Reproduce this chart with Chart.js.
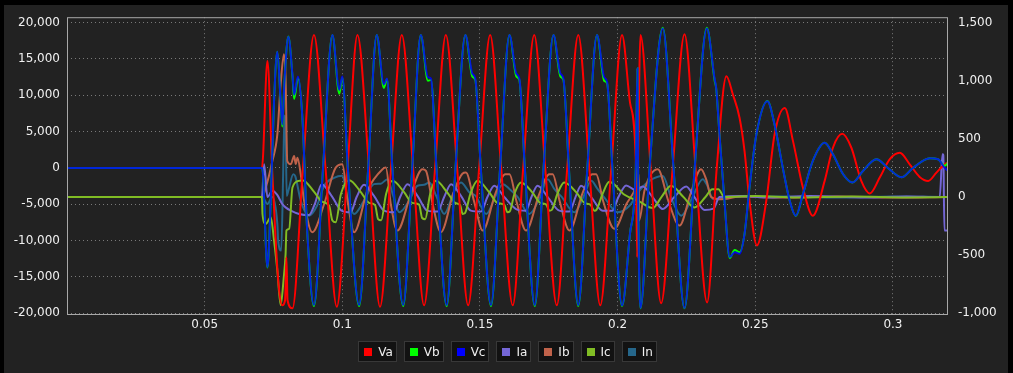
<!DOCTYPE html>
<html lang="en">
<head>
<meta charset="UTF-8">
<title>Va Vb Vc Ia Ib Ic In</title>
<script src="https://cdn.jsdelivr.net/npm/chart.js"></script>
<style>
html, body {
  margin: 0;
  padding: 0;
  background: #000;
}
#box {
  position: relative;
  width: 1013px;
  height: 373px;
}
#chart {
  position: absolute;
  left: 0;
  top: 0;
}
#legend {
  position: absolute;
  left: 0;
  top: 341px;
  width: 1015px;
  display: flex;
  justify-content: center;
  gap: 7px;
  font-family: 'DejaVu Sans', sans-serif;
  font-size: 12px;
  color: #f0f0f0;
}
.item {
  display: flex;
  align-items: center;
  height: 19px;
  border: 1px solid #383838;
  background: #121212;
  padding: 0 3px 0 5px;
}
.item span {
  display: inline-block;
  width: 8px;
  height: 8px;
  margin-right: 6px;
}
</style>
</head>
<body>
<div id="box">
  <canvas id="chart" width="1013" height="373"></canvas>
  <div id="legend"></div>
</div>
<script>
// axis ticks
const timeTicks = [0.05, 0.1, 0.15, 0.2, 0.25, 0.3];
const voltTicks = [-20000, -15000, -10000, -5000, 0, 5000, 10000, 15000, 20000];
const ampTicks = [-1000, -500, 0, 500, 1000, 1500];

// Va (red)
const vaT = [0, 0.0708, 0.0728, 0.0745, 0.0767, 0.0782, 0.0792, 0.0797, 0.0801, 0.0819, 0.0857, 0.0897, 0.0939, 0.0980, 0.1019, 0.1055, 0.1097, 0.1137, 0.1177, 0.1216, 0.1257, 0.1297, 0.1337, 0.1376, 0.1417, 0.1457, 0.1497, 0.1537, 0.1577, 0.1619, 0.1657, 0.1697, 0.1737, 0.1779, 0.1817, 0.1857, 0.1897, 0.1937, 0.1977, 0.2016, 0.2045, 0.2066, 0.2071, 0.2075, 0.2083, 0.2120, 0.2158, 0.2200, 0.2243, 0.2283, 0.2325, 0.2360, 0.2395, 0.2419, 0.2443, 0.2461, 0.2479, 0.2506, 0.2540, 0.2570, 0.2607, 0.2637, 0.2673, 0.2709, 0.2752, 0.2782, 0.2816, 0.2849, 0.2885, 0.2916, 0.2952, 0.2988, 0.3025, 0.3061, 0.3097, 0.3128, 0.3158, 0.3188, 0.3200];
const vaV = [0, 0, 14700, 0, -15400, -18900, -18200, -12300, -18200, -19300, 0, 18300, 0, -19100, 0, 18300, 0, -19100, 0, 18300, 0, -18900, 0, 18300, 0, -18900, 0, 18300, 0, -18900, 0, 18300, 0, -18900, 0, 18300, 0, -18900, 0, 18300, 9000, 1000, -12300, 2000, 18300, 0, -18600, 0, 18400, 0, -18500, 0, 12600, 10070, 6880, 2320, -4510, -10660, -4510, 4600, 8240, 3690, -2690, -6560, -1780, 2780, 4690, 2780, -1780, -3510, -1330, 1190, 2090, 500, -1230, -1780, -640, 500, 700];

// Vb (green) and Vc (blue) share their sample times
const vcT = [0, 0.0709, 0.0728, 0.0740, 0.0752, 0.0764, 0.0776, 0.0782, 0.0790, 0.0804, 0.0819, 0.0825, 0.0839, 0.0855, 0.0873, 0.0897, 0.0930, 0.0964, 0.0989, 0.1000, 0.1020, 0.1061, 0.1094, 0.1125, 0.1151, 0.1162, 0.1182, 0.1221, 0.1254, 0.1285, 0.1311, 0.1322, 0.1342, 0.1379, 0.1411, 0.1447, 0.1472, 0.1483, 0.1503, 0.1540, 0.1573, 0.1607, 0.1632, 0.1643, 0.1663, 0.1699, 0.1731, 0.1767, 0.1792, 0.1803, 0.1823, 0.1857, 0.1890, 0.1925, 0.1951, 0.1962, 0.1981, 0.2016, 0.2045, 0.2066, 0.2072, 0.2075, 0.2083, 0.2116, 0.2164, 0.2203, 0.2243, 0.2280, 0.2324, 0.2352, 0.2358, 0.2370, 0.2388, 0.2407, 0.2425, 0.2443, 0.2461, 0.2479, 0.2504, 0.2544, 0.2570, 0.2600, 0.2625, 0.2647, 0.2673, 0.2709, 0.2752, 0.2782, 0.2819, 0.2853, 0.2891, 0.2940, 0.2982, 0.3031, 0.3073, 0.3134, 0.3164, 0.3188, 0.3200];
const vcV = [0, 0, -13630, -4510, 9160, 16000, 9160, 5970, 12000, 18040, 12810, 10070, 12580, 6880, -9060, -18860, 0, 18280, 10760, 12580, 0, -18860, 0, 18280, 11500, 12300, 0, -18860, 0, 18280, 12500, 12300, 0, -18860, 0, 18280, 13000, 12300, 0, -18860, 0, 18280, 13000, 12300, 0, -18860, 0, 18280, 13000, 12300, 0, -18860, 0, 18280, 12500, 11800, 0, -18900, -9000, 0, 13700, -5000, -19250, 0, 19180, 0, -19250, 0, 19180, 12340, 10980, 4600, -4510, -12260, -11580, -11800, -9060, -2690, 4600, 9160, 5970, 0, -4510, -6560, -3600, 960, 3460, 1870, -860, -2000, -410, 1190, 0, -1280, 0, 1330, 1190, 0, -410];
const vbV = [0, 0, -13700, -4510, 9160, 16000, 9160, 5700, 12000, 18100, 12600, 9500, 12400, 6880, -9060, -19000, 0, 18300, 10200, 12400, 0, -19000, 0, 18300, 11000, 12200, 0, -19000, 0, 18300, 12000, 12100, 0, -19000, 0, 18300, 12600, 12100, 0, -19000, 0, 18300, 12600, 12100, 0, -19000, 0, 18300, 12600, 12100, 0, -19000, 0, 18300, 12000, 11600, 0, -19000, -9000, 0, 13700, -5000, -19300, 0, 19300, 0, -19300, 0, 19300, 12100, 10900, 4600, -4510, -12400, -11300, -11600, -9060, -2690, 4600, 9200, 5970, 0, -4510, -6600, -3600, 960, 3460, 1870, -860, -2000, -410, 1190, 0, -1280, 0, 1330, 1190, 300, 700];

// Ia (purple)
const iaT = [0, 0.0708, 0.0716, 0.0728, 0.0746, 0.0763, 0.0782, 0.0794, 0.0813, 0.0843, 0.0879, 0.0900, 0.0925, 0.0961, 0.0997, 0.1030, 0.1052, 0.1079, 0.1115, 0.1152, 0.1188, 0.1210, 0.1237, 0.1273, 0.1309, 0.1346, 0.1370, 0.1395, 0.1431, 0.1467, 0.1504, 0.1527, 0.1552, 0.1588, 0.1631, 0.1667, 0.1687, 0.1709, 0.1746, 0.1788, 0.1825, 0.1847, 0.1867, 0.1904, 0.1946, 0.1981, 0.2003, 0.2031, 0.2065, 0.2091, 0.2127, 0.2164, 0.2206, 0.2249, 0.2279, 0.2316, 0.2348, 0.2370, 0.2450, 0.2550, 0.2700, 0.2900, 0.3050, 0.3170, 0.3180, 0.3183, 0.3187, 0.3200];
const iaV = [0, 0, 282, 0, 54, 20, -60, -89, -117, -145, -155, -60, 111, 10, -117, -131, 0, 105, 10, -117, -131, 0, 111, 10, -117, -125, 0, 111, 10, -117, -125, 0, 97, 0, -103, -117, 0, 97, 0, -117, -125, 0, 97, 0, -117, -117, 0, 100, 60, 90, 0, -103, 0, 90, 0, -111, -100, 0, 10, -5, 8, -5, 5, 0, 367, 360, -288, -288];

// Ib (brown)
const ibT = [0, 0.0709, 0.0722, 0.0746, 0.0764, 0.0776, 0.0788, 0.0794, 0.0800, 0.0813, 0.0825, 0.0831, 0.0837, 0.0849, 0.0861, 0.0891, 0.0934, 0.0976, 0.1000, 0.1019, 0.1043, 0.1091, 0.1146, 0.1158, 0.1176, 0.1200, 0.1249, 0.1291, 0.1304, 0.1328, 0.1358, 0.1403, 0.1436, 0.1449, 0.1479, 0.1510, 0.1556, 0.1592, 0.1607, 0.1633, 0.1667, 0.1716, 0.1752, 0.1764, 0.1790, 0.1825, 0.1872, 0.1908, 0.1922, 0.1948, 0.1988, 0.2032, 0.2065, 0.2077, 0.2078, 0.2098, 0.2146, 0.2185, 0.2225, 0.2265, 0.2303, 0.2322, 0.2340, 0.2370, 0.2450, 0.2600, 0.2800, 0.3000, 0.3200];
const ibV = [0, 0, 82, 310, 538, 965, 1227, 1022, 310, 282, 353, 284, 338, 196, -31, -302, -60, 253, 282, -31, -302, 54, 239, 253, -60, -288, 26, 239, 225, -60, -302, 30, 200, 210, -40, -288, 30, 196, 196, -40, -288, 30, 196, 196, -40, -288, 30, 196, 196, -40, -273, -60, 80, 196, -202, 60, 239, -40, -245, 30, 239, 150, 0, -20, 5, -5, 5, -5, 0];

// Ic (yellow green)
const icT = [0, 0.0708, 0.0710, 0.0722, 0.0740, 0.0752, 0.0764, 0.0776, 0.0787, 0.0794, 0.0797, 0.0807, 0.0819, 0.0843, 0.0855, 0.0899, 0.0926, 0.0952, 0.0964, 0.0976, 0.0995, 0.1025, 0.1068, 0.1097, 0.1119, 0.1130, 0.1141, 0.1159, 0.1182, 0.1225, 0.1254, 0.1279, 0.1290, 0.1301, 0.1319, 0.1340, 0.1381, 0.1410, 0.1428, 0.1437, 0.1445, 0.1465, 0.1491, 0.1534, 0.1563, 0.1588, 0.1600, 0.1608, 0.1625, 0.1649, 0.1690, 0.1719, 0.1741, 0.1752, 0.1761, 0.1781, 0.1806, 0.1850, 0.1879, 0.1901, 0.1916, 0.1923, 0.1945, 0.1970, 0.2025, 0.2080, 0.2128, 0.2159, 0.2194, 0.2239, 0.2279, 0.2319, 0.2344, 0.2366, 0.2388, 0.2500, 0.2650, 0.2850, 0.3050, 0.3200];
const icV = [0, 0, -145, -231, -174, -373, -630, -929, -700, -487, -288, -273, 82, 139, 145, 40, -40, -74, -202, -217, 26, 145, 40, -50, -70, -190, -200, 26, 139, 40, -50, -65, -180, -190, 26, 139, 40, -50, -70, -145, -140, 26, 139, 40, -50, -65, -131, -125, 26, 125, 40, -50, -65, -117, -110, 26, 125, 40, -50, -65, -117, -110, 26, 131, 20, -40, -94, 0, 97, 0, -89, 0, 68, 68, 0, 8, -5, 5, -3, 0];

// In (dark teal)
const inT = [0, 0.0709, 0.0728, 0.0746, 0.0764, 0.0767, 0.0778, 0.0786, 0.0790, 0.0794, 0.0798, 0.0804, 0.0822, 0.0829, 0.0849, 0.0879, 0.0908, 0.0934, 0.0970, 0.1000, 0.1017, 0.1043, 0.1079, 0.1115, 0.1140, 0.1164, 0.1185, 0.1207, 0.1243, 0.1273, 0.1297, 0.1316, 0.1341, 0.1370, 0.1407, 0.1431, 0.1462, 0.1484, 0.1523, 0.1557, 0.1583, 0.1607, 0.1636, 0.1679, 0.1716, 0.1746, 0.1770, 0.1796, 0.1843, 0.1876, 0.1904, 0.1927, 0.1952, 0.2000, 0.2043, 0.2079, 0.2116, 0.2164, 0.2196, 0.2231, 0.2269, 0.2309, 0.2326, 0.2346, 0.2363, 0.2400, 0.2600, 0.2800, 0.3000, 0.3200];
const inV = [0, 0, -60, 0, -231, -373, -460, 300, 700, 600, 10, 54, 196, 180, -31, -160, -75, 97, 165, 182, 10, -145, -30, 111, 115, 154, 10, -131, -30, 97, 105, 125, 10, -145, 54, 125, 40, 10, -145, 10, 111, 70, 3, -145, -15, 154, 70, 3, -131, 3, 139, 70, -5, -131, -75, 54, 139, 180, -15, -160, -15, 154, 97, -17, -15, 0, 5, -5, 5, 0];

const series = [
  { label: 'Va', t: vaT, v: vaV, axis: 'y', color: '#ff0000' },
  { label: 'Vb', t: vcT, v: vbV, axis: 'y', color: '#00ff00' },
  { label: 'Vc', t: vcT, v: vcV, axis: 'y', color: 'rgba(0,0,255,0.85)', key: '#0000ff' },
  { label: 'Ia', t: iaT, v: iaV, axis: 'y1', color: '#7466d6' },
  { label: 'Ib', t: ibT, v: ibV, axis: 'y1', color: '#c0624a' },
  { label: 'Ic', t: icT, v: icV, axis: 'y1', color: '#80bc24' },
  { label: 'In', t: inT, v: inV, axis: 'y1', color: '#25668a' }
];

// drawing order: first in this list ends on top
const stack = ['Vc', 'Vb', 'Va', 'Ic', 'Ia', 'Ib', 'In'];

const fmt = v => v.toLocaleString('en-US');

const frame = {
  id: 'frame',
  beforeDraw(c) {
    const ctx = c.ctx;
    ctx.save();
    ctx.fillStyle = '#000';
    ctx.fillRect(0, 0, c.width, c.height);
    ctx.fillStyle = '#222';
    ctx.fillRect(4, 5, c.width - 9, c.height - 5);
    ctx.restore();
  },
  afterDraw(c) {
    const a = c.chartArea;
    const ctx = c.ctx;
    ctx.save();
    ctx.strokeStyle = '#a8a8a8';
    ctx.lineWidth = 1;
    ctx.strokeRect(a.left + 0.5, a.top + 0.5, a.right - a.left - 1, a.bottom - a.top - 1);
    ctx.restore();
  }
};

const datasets = stack.map((name, i) => {
  const s = series.find(d => d.label === name);
  return {
    label: s.label,
    yAxisID: s.axis,
    data: s.t.map((t, j) => ({ x: t, y: s.v[j] })),
    borderColor: s.color,
    borderWidth: 2,
    pointRadius: 0,
    cubicInterpolationMode: 'monotone',
    fill: false,
    order: i
  };
});

Chart.defaults.font.family = "'DejaVu Sans', sans-serif";
Chart.defaults.font.size = 12;
Chart.defaults.color = '#f0f0f0';

new Chart(document.getElementById('chart'), {
  type: 'line',
  data: { datasets },
  options: {
    responsive: false,
    animation: false,
    devicePixelRatio: 1,
    layout: { padding: { top: 15, left: 0, right: 0, bottom: 0 } },
    plugins: {
      legend: { display: false },
      tooltip: { enabled: false }
    },
    scales: {
      x: {
        type: 'linear',
        min: 0,
        max: 0.32,
        afterBuildTicks: ax => { ax.ticks = timeTicks.map(v => ({ value: v })); },
        afterFit: ax => { ax.height = 58; },
        ticks: {
          padding: 3,
          maxRotation: 0,
          callback: v => String(parseFloat(v.toFixed(2)))
        },
        grid: { color: '#7a7a7a', drawTicks: false },
        border: { display: false, dash: [1, 3] }
      },
      y: {
        position: 'left',
        min: -20230,
        max: 20740,
        afterBuildTicks: ax => { ax.ticks = voltTicks.map(v => ({ value: v })); },
        afterFit: ax => { ax.width = 67; },
        ticks: { padding: 7, callback: fmt },
        grid: { color: '#7a7a7a', drawTicks: false },
        border: { display: false, dash: [1, 3] }
      },
      y1: {
        position: 'right',
        min: -1014,
        max: 1546,
        afterBuildTicks: ax => { ax.ticks = ampTicks.map(v => ({ value: v })); },
        afterFit: ax => { ax.width = 65; },
        ticks: { padding: 10, callback: fmt },
        grid: { display: false, drawTicks: false },
        border: { display: false }
      }
    }
  },
  plugins: [frame]
});

// legend boxes under the plot
const legend = document.getElementById('legend');
series.forEach(s => {
  const item = document.createElement('div');
  item.className = 'item';
  item.innerHTML = `<span style="background:${s.key || s.color}"></span>${s.label}`;
  legend.appendChild(item);
});
</script>
</body>
</html>
